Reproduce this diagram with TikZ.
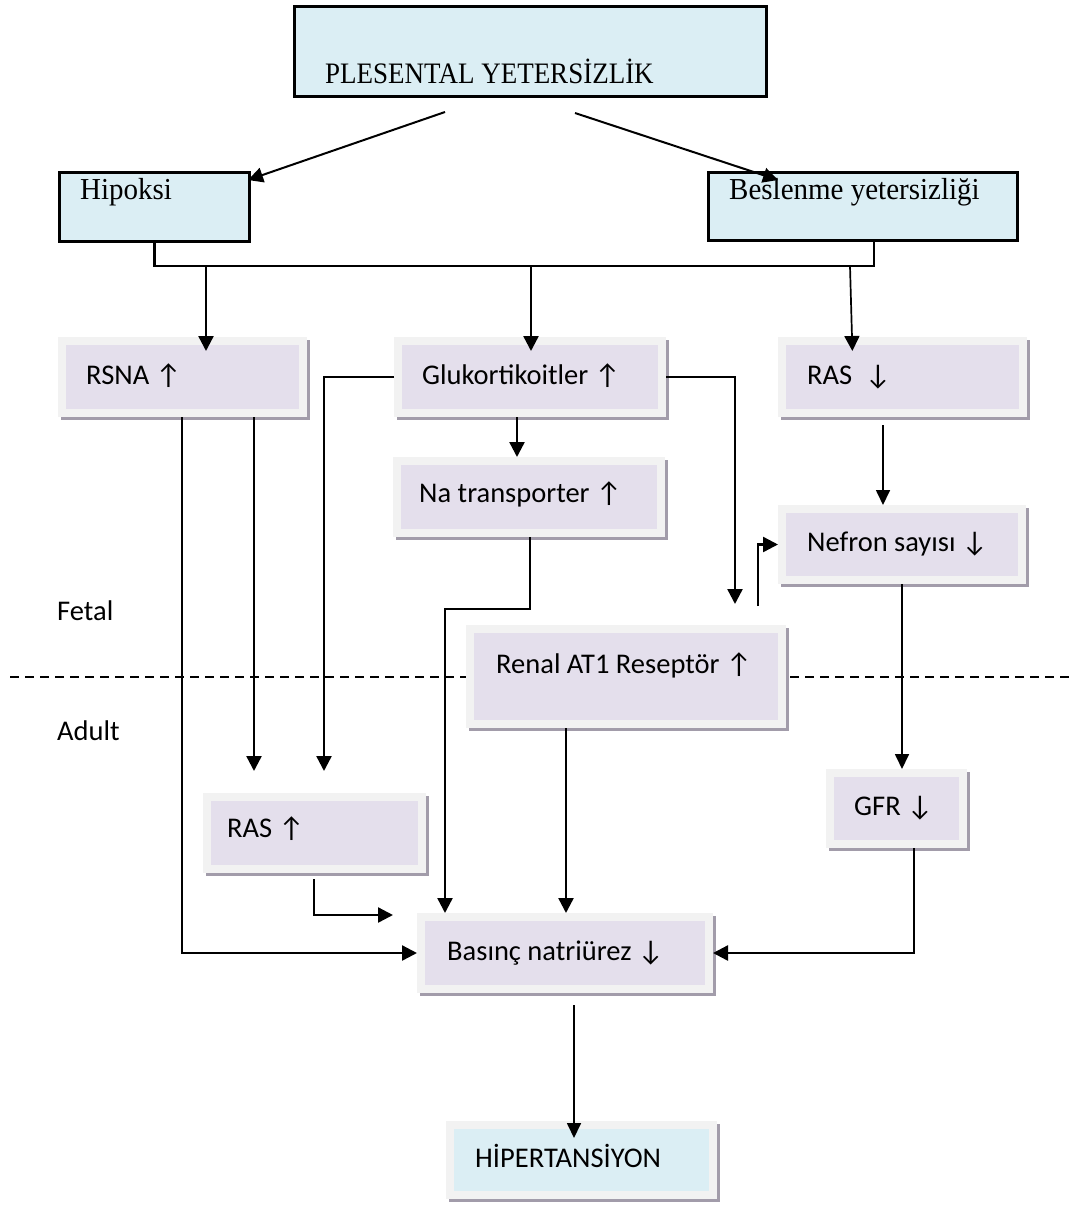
\documentclass[tikz,border=0pt]{standalone}
\usepackage{fontspec}
\setmainfont{Liberation Serif}
\newfontfamily\calibrifont{Carlito}
\usetikzlibrary{arrows.meta,backgrounds}
\definecolor{paleblue}{HTML}{DBEEF4}
\definecolor{lilac}{HTML}{E4DFEC}
\definecolor{framegray}{HTML}{F2F2F2}
\definecolor{shadowgray}{HTML}{A29CAA}
% box given by its outer edges: style, name, x1, y1, x2, y2
\newcommand\placebox[6]{%
  \node[#1, minimum width={#5-#3-\pgflinewidth}, minimum height={#6-#4-\pgflinewidth}]
    (#2) at ({(#3+#5)/2},{(#4+#6)/2}) {};}
\newcommand\boxshadow[1]{%
  \fill[shadowgray] ([shift={(3,3)}]#1.south west) rectangle ([shift={(3,3)}]#1.north east);}
\begin{document}
\begin{tikzpicture}[x=1pt,y=-1pt,
  bluebox/.style={draw=black, line width=3pt, fill=paleblue, inner sep=0},
  softbox/.style={draw=framegray, line width=8pt, fill=lilac, inner sep=0},
  softblue/.style={draw=framegray, line width=8pt, fill=paleblue, inner sep=0},
  serifcap/.style={anchor=base west, inner sep=0, font=\fontsize{29}{34}\selectfont},
  sanscap/.style={anchor=base west, inner sep=0, font=\calibrifont\fontsize{28.5}{33}\selectfont},
  link/.style={line width=2.2pt},
  arr/.style={line width=2.4pt, -{Triangle[length=15pt,width=15pt]}},
  thinarr/.style={line width=1.7pt, -{Triangle[length=15pt,width=14pt]}},
]
\useasboundingbox (0,0) rectangle (1080,1208);

% fetal / adult separation
\draw[line width=1.3pt, dash pattern=on 9pt off 6pt] (10,677) -- (1070,677);
\node[sanscap] (fetal) at (57,620) {Fetal};
\node[sanscap] (adult) at (57,740) {Adult};

% boxes
\placebox{bluebox}{plesenta}{293}{5}{768}{98}
\placebox{bluebox}{hipoksi}{58}{171}{251}{243}
\placebox{bluebox}{beslenme}{707}{171}{1019}{242}
\placebox{softbox}{rsna}{58}{337}{307}{417}
\placebox{softbox}{gluko}{394}{337}{666}{417}
\placebox{softbox}{rasd}{778}{337}{1027}{417}
\placebox{softbox}{na}{393}{457}{665}{537}
\placebox{softbox}{nefron}{778}{505}{1026}{584}
\placebox{softbox}{renal}{466}{625}{786}{728}
\placebox{softbox}{rasu}{203}{793}{426}{873}
\placebox{softbox}{gfr}{826}{769}{967}{848}
\placebox{softbox}{basinc}{417}{913}{713}{993}
\placebox{softblue}{hiper}{446}{1121}{717}{1199}

\begin{scope}[on background layer]
  \boxshadow{rsna}\boxshadow{gluko}\boxshadow{rasd}\boxshadow{na}
  \boxshadow{nefron}\boxshadow{renal}\boxshadow{rasu}\boxshadow{gfr}
  \boxshadow{basinc}\boxshadow{hiper}
\end{scope}

% texts
\node[serifcap, font=\fontsize{27}{32}\selectfont] (plesenta-t) at (325,83) {\scalebox{1}[1.1]{PLESENTAL YETERSİZLİK}};
\node[serifcap] (hipoksi-t) at (80,199) {\scalebox{1}[1.05]{Hipoksi}};
\node[serifcap] (beslenme-t) at (729,199) {\scalebox{1}[1.05]{Beslenme yetersizliği}};
\node[sanscap] (rsna-t) at (86,384) {RSNA ↑};
\node[sanscap] (gluko-t) at (422,384) {Glukortikoitler ↑};
\node[sanscap] (rasd-t) at (807,384) {RAS\ \ ↓};
\node[sanscap] (na-t) at (419,502) {Na transporter ↑};
\node[sanscap] (nefron-t) at (807,551) {Nefron sayısı ↓};
\node[sanscap] (renal-t) at (496,673) {Renal AT1 Reseptör ↑};
\node[sanscap] (rasu-t) at (227,837) {RAS ↑};
\node[sanscap] (gfr-t) at (854,815) {GFR ↓};
\node[sanscap] (basinc-t) at (447,960) {Basınç natriürez ↓};
\node[sanscap] (hiper-t) at (475,1167) {HİPERTANSİYON};

% connectors
\coordinate (plesenta-l) at (445,112);
\coordinate (plesenta-r) at (575,113);
\coordinate (renal-out) at (758,606);
\draw[arr, line width=2pt] (plesenta-l) -- ([shift={(-3,9)}]hipoksi.north east);
\draw[arr, line width=2pt] (plesenta-r) -- ([shift={(71,9)}]beslenme.north west);

\draw[link] (hipoksi.south) |- (874,266) -- (beslenme.south -| 874,0);
\draw[arr, shorten >=-14pt] (206,266) -- (rsna.north -| 206,0);
\draw[arr, shorten >=-14pt] (531,266) -- (gluko.north -| 531,0);
\draw[arr, line width=1.7pt, shorten >=-14pt] (850,266) -- (rasd.north -| 852,0);

\draw[arr] (gluko.south -| 517,0) -- (na.north -| 517,0);
\draw[arr, shorten >=22pt] (gluko.west) -| (rasu.north -| 324,0);
\draw[arr, shorten >=21pt] (gluko.east) -| (renal.north -| 735,0);
\draw[arr] (renal-out) |- (nefron.west);

\draw[thinarr, shorten <=8pt] (rasd.south -| 883,0) -- (nefron.north -| 883,0);
\draw[thinarr] (nefron.south -| 902,0) -- (gfr.north -| 902,0);

\draw[arr, shorten >=22pt] (rsna.south -| 254,0) -- (rasu.north -| 254,0);
\draw[arr] (rsna.south -| 182,0) |- (basinc.west);

\draw[arr] (na.south -| 530,0) -- (530,609) -| (basinc.north -| 445,0);
\draw[arr] (renal.south -| 566,0) -- (basinc.north -| 566,0);
\draw[arr, shorten <=6pt] (rasu.south -| 314,0) |- ([shift={(-24,-38)}]basinc.west);
\draw[arr] (gfr.south -| 914,0) |- (basinc.east);

\draw[thinarr, shorten <=12pt, shorten >=-17pt] (basinc.south -| 574,0) -- (hiper.north -| 574,0);
\end{tikzpicture}
\end{document}
